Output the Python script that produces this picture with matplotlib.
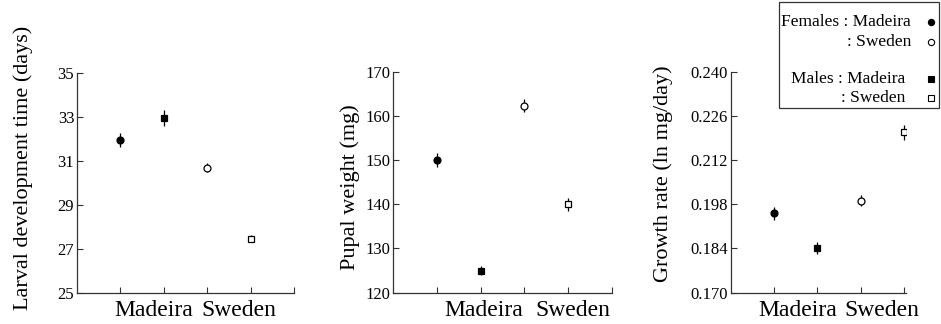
from matplotlib import pyplot as plt
from matplotlib.lines import Line2D
from matplotlib.patches import Rectangle
import numpy as np

plt.rcParams['font.family'] = ['Liberation Serif', 'DejaVu Serif']

# x positions: female Madeira, male Madeira, female Sweden, male Sweden
groups = ['Females : Madeira', 'Males : Madeira', 'Females : Sweden', 'Males : Sweden']
xpos = [1, 2, 3, 4]

dev_time = [31.95, 32.95, 30.7, 27.47]
dev_err = [0.32, 0.38, 0.2, 0.16]

pupal_wt = [150.0, 125.0, 162.3, 140.0]
pupal_err = [1.6, 1.1, 1.5, 1.5]

growth = [0.1951, 0.1841, 0.1991, 0.2208]
growth_err = [0.0022, 0.0019, 0.0017, 0.0023]

W, H = 941, 324
fig = plt.figure(figsize=(W/100, H/100), dpi=100)

def px(x, y):
	return x/W, 1 - y/H

markers = ['o', 's', 'o', 's']
faces = ['black', 'black', 'white', 'white']

def panel(rect, xmax, vals, errs, ylim, yticks, ytl, letter, ylabel, ylab_xy, cat_x):
	ax = fig.add_axes(rect)
	for x, v, e, m, fc in zip(xpos, vals, errs, markers, faces):
		ax.errorbar(x, v, yerr=e, fmt=m, ms=5, mfc=fc, mec='black', mew=0.9,
			ecolor='black', elinewidth=0.9, capsize=0)
	ax.set_xlim(0, xmax)
	ax.set_ylim(*ylim)
	ax.set_yticks(yticks)
	ax.set_yticklabels(ytl, fontsize=12)
	ax.set_xticks([t for t in [1, 2, 3, 4, 5] if t <= xmax])
	ax.tick_params(axis='x', labelbottom=False)
	ax.tick_params(direction='in', length=4, width=0.8, pad=2, color='#333333')
	ax.spines['top'].set_visible(False)
	ax.spines['right'].set_visible(False)
	for s in ['left', 'bottom']:
		ax.spines[s].set_linewidth(0.9)
		ax.spines[s].set_color('#333333')
	ax.text(0.6, 0.955, letter, transform=ax.get_yaxis_transform(),
		fontsize=11, fontweight='bold', ha='center', va='center')
	fx, fy = px(*ylab_xy)
	fig.text(fx, fy, ylabel, rotation=90, ha='center', va='center', fontsize=16)
	_, by = px(0, 316)
	for cx, name in zip(cat_x, ['Madeira', 'Sweden']):
		bx = ax.transData.transform((cx, 0))[0] / fig.bbox.width
		fig.text(bx, by, name, ha='center', va='baseline', fontsize=17)
	return ax

panel([77/W, 31/H, 217/W, 220/H], 5, dev_time, dev_err, (25, 35),
	[25, 27, 29, 31, 33, 35], ['25', '27', '29', '31', '33', '35'], 'A',
	'Larval development time (days)', (23, 168), [1.77, 3.73])

panel([393.3/W, 31.3/H, 218.4/W, 221/H], 5, pupal_wt, pupal_err, (120, 170),
	[120, 130, 140, 150, 160, 170], ['120', '130', '140', '150', '160', '170'], 'B',
	'Pupal weight (mg)', (350, 187), [2.06, 4.1])

panel([730.7/W, 31.3/H, 175.4/W, 221/H], 4.05, growth, growth_err, (0.170, 0.240),
	[0.170, 0.184, 0.198, 0.212, 0.226, 0.240],
	['0.170', '0.184', '0.198', '0.212', '0.226', '0.240'], 'C',
	'Growth rate (ln mg/day)', (663, 174), [1.54, 3.49])

# key box, drawn in figure pixels
fig.add_artist(Rectangle(px(779, 108), 160/W, 106/H, transform=fig.transFigure,
	fill=False, lw=0.9, ec='#333333'))
key_text = ['Females : Madeira', ': Sweden', 'Males : Madeira', ': Sweden']
key_x = [911, 911, 905, 905]
key_y = [22, 42, 79, 98]
key_m = ['o', 'o', 's', 's']
key_fc = ['black', 'white', 'black', 'white']
for t, kx, ky, m, fc in zip(key_text, key_x, key_y, key_m, key_fc):
	tx, ty = px(kx, ky)
	fig.text(tx, ty, t, ha='right', va='center', fontsize=12.5)
	mx, my = px(931, ky)
	fig.add_artist(Line2D([mx], [my], marker=m, ms=4.5, mfc=fc, mec='black',
		mew=0.8, transform=fig.transFigure))

plt.savefig('out.png', dpi=100)
